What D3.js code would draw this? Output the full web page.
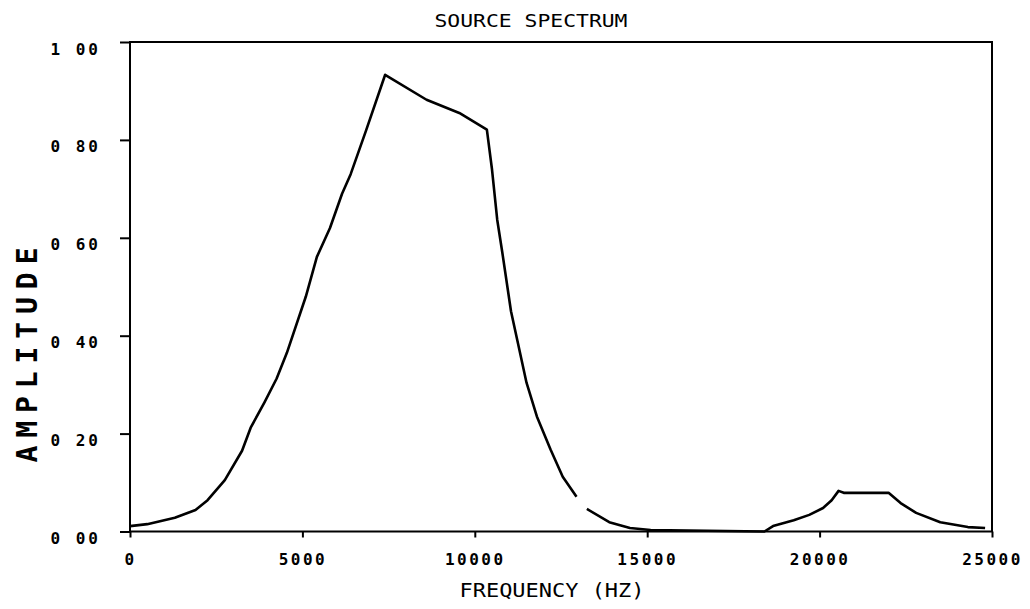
<!DOCTYPE html>
<html>
<head>
<meta charset="utf-8">
<script src="https://cdn.jsdelivr.net/npm/d3@7"></script>
<style>
  body { margin: 0; background: #fff; }
  svg { display: block; }
  .lbl { font-family: "DejaVu Sans Mono", monospace; fill: #000; }
</style>
</head>
<body>
<svg id="chart" width="1030" height="609"></svg>
<script>
// frequency (Hz) and amplitude; null marks the break in the trace
const freqHz = [0, 500, 1300, 1900, 2250, 2750, 3250, 3500, 3900, 4250, 4550, 5100, 5420,
    5800, 6150, 6400, 6850, 7400, 8600, 9550, 10350, 10500, 10650, 10800, 11050, 11250,
    11500, 11800, 12200, 12550, 12950, 13100, 13250, 13900, 14500, 15100, 18400, 18650,
    19250, 19700, 20100, 20350, 20550, 20700, 22000, 22350, 22800, 23500, 24300, 24800];
const amplitude = [0.011, 0.015, 0.028, 0.044, 0.064, 0.105, 0.165, 0.212, 0.264, 0.312, 0.365,
    0.48, 0.561, 0.62, 0.69, 0.73, 0.82, 0.933, 0.882, 0.855, 0.821, 0.739, 0.637, 0.569,
    0.45, 0.385, 0.304, 0.235, 0.167, 0.112, 0.071, null, 0.046, 0.019, 0.007, 0.003,
    0.0, 0.011, 0.023, 0.034, 0.048, 0.064, 0.083, 0.079, 0.079, 0.058, 0.038, 0.019, 0.009, 0.007];

const xTicks = [0, 5000, 10000, 15000, 20000, 25000];
const yTicks = [0, 0.2, 0.4, 0.6, 0.8, 1.0];
const yTickLabels = ["0 00", "0 20", "0 40", "0 60", "0 80", "1 00"];

const title = "SOURCE SPECTRUM";
const xTitle = "FREQUENCY (HZ)";
const yTitle = "AMPLITUDE";

const svg = d3.select("#chart");
const plotLeft = 130, plotRight = 992, plotTop = 42, plotBottom = 531.5;

const x = d3.scaleLinear().domain([0, 25000]).range([plotLeft, plotRight]);
const y = d3.scaleLinear().domain([0, 1]).range([plotBottom, plotTop]);

//frame
svg.append("rect")
    .attr("x", plotLeft).attr("y", plotTop)
    .attr("width", plotRight - plotLeft).attr("height", plotBottom - plotTop)
    .attr("fill", "none").attr("stroke", "#000").attr("stroke-width", 2);

//y axis
const gy = svg.append("g")
    .attr("transform", `translate(${plotLeft},0)`)
    .call(d3.axisLeft(y).tickValues(yTicks).tickSize(10).tickSizeOuter(0)
        .tickFormat((d, i) => yTickLabels[i]));
gy.select(".domain").remove();
gy.selectAll(".tick line").attr("stroke-width", 2);
gy.selectAll(".tick text")
    .attr("class", "lbl")
    .attr("x", -29).attr("dy", "0.75em")
    .style("font-size", "16px").style("font-weight", "bold")
    .style("letter-spacing", "3px");

//x axis
const gx = svg.append("g")
    .attr("transform", `translate(0,${plotBottom})`)
    .call(d3.axisBottom(x).tickValues(xTicks).tickSize(6).tickSizeOuter(0)
        .tickFormat(d3.format("d")));
gx.select(".domain").remove();
gx.selectAll(".tick line").attr("stroke-width", 2);
gx.selectAll(".tick text")
    .attr("class", "lbl")
    .attr("y", 22)
    .style("font-size", "16px").style("font-weight", "bold")
    .style("letter-spacing", "2.5px");

//spectrum trace
const points = freqHz.map((f, i) => ({f: f, a: amplitude[i]}));
const line = d3.line()
    .defined(d => d.a != null)
    .x(d => x(d.f))
    .y(d => y(d.a));

svg.append("path")
    .datum(points)
    .attr("d", line)
    .attr("fill", "none")
    .attr("stroke", "#000")
    .attr("stroke-width", 2.6)
    .attr("stroke-linejoin", "round");

//titles
svg.append("text").attr("class", "lbl")
    .attr("x", 531).attr("y", 27)
    .attr("text-anchor", "middle")
    .attr("textLength", 193).attr("lengthAdjust", "spacingAndGlyphs")
    .style("font-size", "18px")
    .text(title);

svg.append("text").attr("class", "lbl")
    .attr("x", 552).attr("y", 597)
    .attr("text-anchor", "middle")
    .attr("textLength", 185).attr("lengthAdjust", "spacingAndGlyphs")
    .style("font-size", "19px")
    .text(xTitle);

svg.append("text").attr("class", "lbl")
    .attr("transform", "translate(37,355) rotate(-90)")
    .attr("text-anchor", "middle")
    .attr("textLength", 215).attr("lengthAdjust", "spacing")
    .style("font-size", "28px")
    .style("font-weight", "bold")
    .text(yTitle);
</script>
</body>
</html>
